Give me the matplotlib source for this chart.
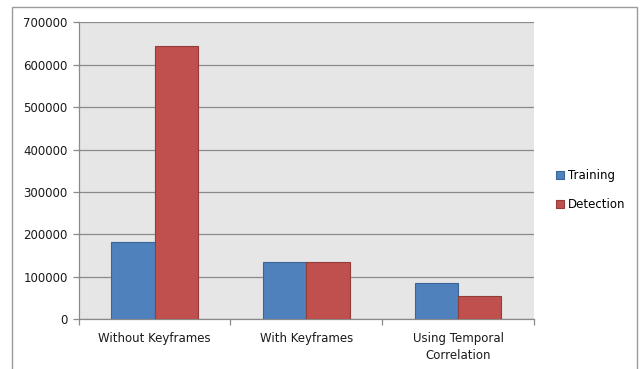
import matplotlib
matplotlib.use("Agg")
import matplotlib.pyplot as plt
import matplotlib.patches as mpatches
from matplotlib.ticker import MultipleLocator
import numpy as np

categories = ["Without Keyframes", "With Keyframes", "Using Temporal\nCorrelation"]
series_names = ["Training", "Detection"]
training = [183000, 135000, 85000]
detection = [644000, 135000, 54000]

colors = ["#4f81bd", "#c0504d"]
edges = ["#3a6596", "#943c39"]

fig = plt.figure(figsize=(6.43, 3.69), dpi=100)
fig.patch.set_facecolor("white")

# outer chart frame
frame = mpatches.Rectangle((12 / 643, -0.05), (637 - 12) / 643, 1.05 - 7 / 369,
                           transform=fig.transFigure, fill=False,
                           edgecolor="#9a9a9a", linewidth=1.0)
fig.add_artist(frame)

ax = fig.add_axes([78.7 / 643, 1 - 319.3 / 369, (534 - 78.7) / 643, (319.3 - 22.3) / 369])
ax.set_facecolor("#e6e6e6")

x = np.arange(len(categories))
w = 1 / 3.5
ax.bar(x - w / 2, training, w, color=colors[0], edgecolor=edges[0], linewidth=0.8,
       label=series_names[0], zorder=3)
ax.bar(x + w / 2, detection, w, color=colors[1], edgecolor=edges[1], linewidth=0.8,
       label=series_names[1], zorder=3)

ax.set_xlim(-0.5, len(categories) - 0.5)
ax.set_ylim(0, 700000)
ax.yaxis.set_major_locator(MultipleLocator(100000))
ax.yaxis.grid(True, color="#8a8a8a", linewidth=0.9, zorder=1)
ax.set_axisbelow(True)

ax.set_xticks(x)
ax.set_xticklabels(categories, fontsize=8.5, color="#1a1a1a", linespacing=1.35)
ax.tick_params(axis="x", length=0, pad=9.5)
ax.set_xticks(np.arange(-0.5, len(categories)), minor=True)
ax.tick_params(axis="x", which="minor", length=4, color="#8a8a8a", width=0.9)
ax.tick_params(axis="y", labelsize=8.5, labelcolor="#1a1a1a", length=4,
               color="#8a8a8a", width=0.9, pad=4)

for side in ["top", "right"]:
    ax.spines[side].set_visible(False)
for side in ["left", "bottom"]:
    ax.spines[side].set_color("#8a8a8a")
    ax.spines[side].set_linewidth(0.9)

leg = ax.legend(loc="center left", bbox_to_anchor=(1.025, 0.435), frameon=False,
                fontsize=8.5, handlelength=0.7, handleheight=0.7, handletextpad=0.3,
                labelspacing=1.3)

fig.savefig("out.png", dpi=100, facecolor="white")
